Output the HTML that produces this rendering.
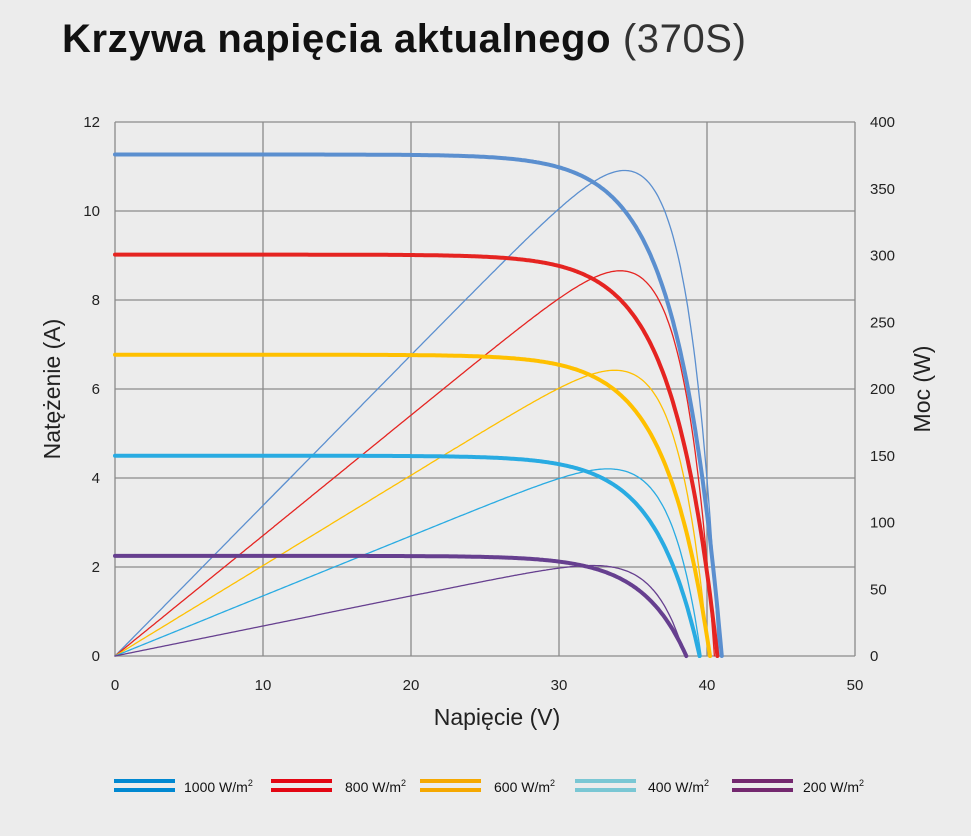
<!DOCTYPE html>
<html><head><meta charset="utf-8"><style>
html,body{margin:0;padding:0;background:#ececec;}
body{width:971px;height:831px;overflow:hidden;font-family:"Liberation Sans",sans-serif;}
</style></head><body>
<svg id="s" width="971" height="831" xmlns="http://www.w3.org/2000/svg" font-family="Liberation Sans, sans-serif">
<rect width="971" height="831" fill="#ececec"/>
<text x="62" y="52" font-size="40" font-weight="bold" fill="#111" letter-spacing="0.6">Krzywa napięcia aktualnego <tspan font-weight="normal" fill="#333">(370S)</tspan></text>
<g id="grid" stroke="#8a8a8a" stroke-width="1.3" fill="none"></g>
<g id="lab" font-size="15" fill="#222"></g>
<text x="497" y="725" font-size="23" text-anchor="middle" fill="#222">Napięcie (V)</text>
<text transform="translate(60,389) rotate(-90)" font-size="23" text-anchor="middle" fill="#222">Natężenie (A)</text>
<text transform="translate(930,389) rotate(-90)" font-size="23" text-anchor="middle" fill="#222">Moc (W)</text>
<g id="curves" fill="none" stroke-linejoin="round" stroke-linecap="round"></g>
<g id="leg" font-size="14" fill="#111"></g>
</svg>
<script>
var NS="http://www.w3.org/2000/svg";
function el(p,t,a,txt){var e=document.createElementNS(NS,t);for(var k in a)e.setAttribute(k,a[k]);if(txt!=null)e.textContent=txt;document.getElementById(p).appendChild(e);return e;}
var X0=115,PX=14.8,Y0=656,PY=44.5,PW=534/400;
for(var v=0;v<=50;v+=10){var x=X0+v*PX;el("grid","line",{x1:x,y1:122,x2:x,y2:656});el("lab","text",{x:x,y:690,"text-anchor":"middle"},v);}
for(var i=0;i<=12;i+=2){var y=Y0-i*PY;el("grid","line",{x1:115,y1:y,x2:855,y2:y});el("lab","text",{x:100,y:y+5,"text-anchor":"end"},i);}
for(var w=0;w<=400;w+=50){var y=Y0-w*PW;el("lab","text",{x:870,y:y+5},w);}
var S=[
{c:"#5b8fcf",isc:11.27,voc:41.0,pv:40.8},
{c:"#e52421",isc:9.02,voc:40.7,pv:40.5},
{c:"#ffc000",isc:6.77,voc:40.2,pv:40.1},
{c:"#29abe2",isc:4.5,voc:39.5,pv:39.6},
{c:"#663f8f",isc:2.25,voc:38.6,pv:38.5}];
S.forEach(function(s){
 var a=3.0,d="",p="";
 for(var v=0;v<=s.voc;v+=0.1){var I=s.isc*(1-Math.exp((v-s.voc)/a))/(1-Math.exp(-s.voc/a));if(I<0)I=0;d+=(d?"L":"M")+(X0+v*PX).toFixed(1)+","+(Y0-I*PY).toFixed(1);}
 d+="L"+(X0+s.voc*PX).toFixed(1)+","+Y0;
 var b=2.3;
 for(var v=0;v<=s.pv;v+=0.1){var I=s.isc*(1-Math.exp((v-s.pv)/b));if(I<0)I=0;var P=v*I;p+=(p?"L":"M")+(X0+v*PX).toFixed(1)+","+(Y0-P*PW).toFixed(1);}
 p+="L"+(X0+s.pv*PX).toFixed(1)+","+Y0;
 el("curves","path",{d:p,stroke:s.c,"stroke-width":1.3});
 el("curves","path",{d:d,stroke:s.c,"stroke-width":4});
});
var L=[["#0088d1",114,184,"1000"],["#e30613",271,345,"800"],["#f5a800",420,494,"600"],["#7ac7d4",575,648,"400"],["#74286f",732,803,"200"]];
L.forEach(function(l){
 el("leg","rect",{x:l[1],y:779,width:61,height:4,fill:l[0]});
 el("leg","rect",{x:l[1],y:788,width:61,height:4,fill:l[0]});
 var t=el("leg","text",{x:l[2],y:792},l[3]+" W/m");
 var s=document.createElementNS(NS,"tspan");s.setAttribute("font-size","9");s.setAttribute("dy","-6");s.textContent="2";t.appendChild(s);
});
</script>
</body></html>
